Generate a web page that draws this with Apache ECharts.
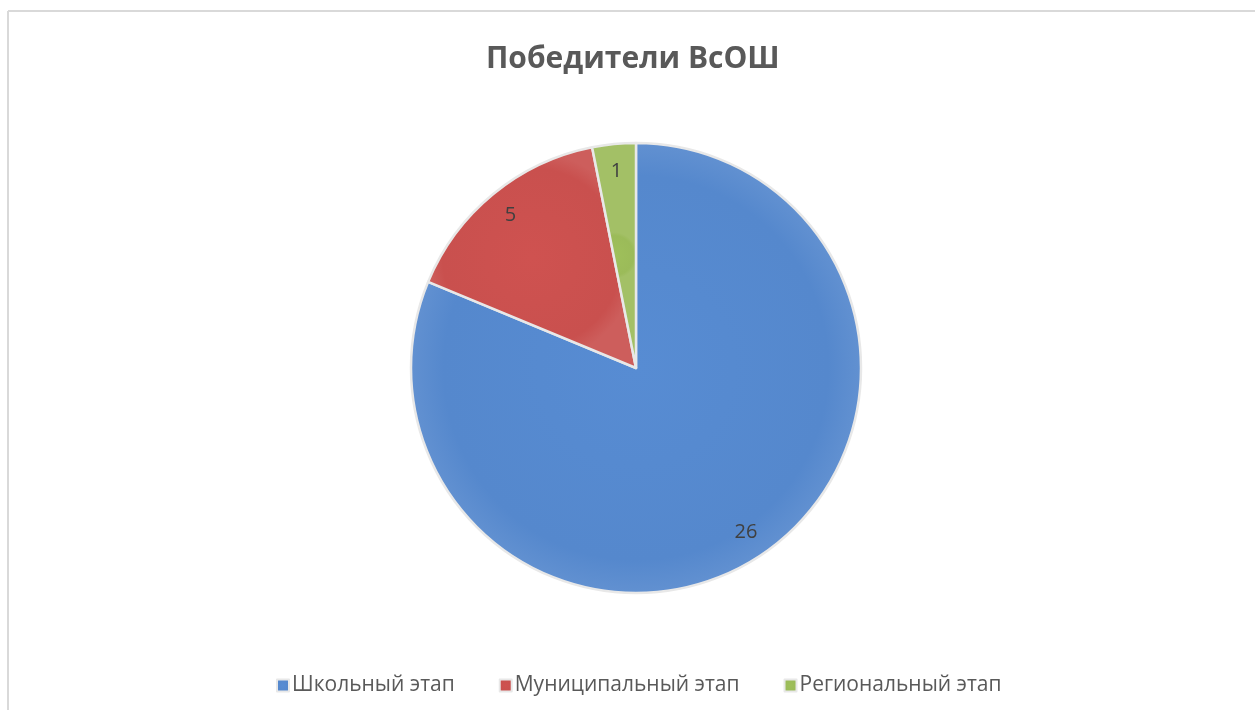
<!DOCTYPE html>
<html>
<head>
<meta charset="utf-8">
<script src="https://cdn.jsdelivr.net/npm/echarts@6/dist/echarts.min.js"></script>
<style>
  html, body { margin: 0; padding: 0; background: #ffffff; }
  #chart { width: 1255px; height: 710px; }
</style>
</head>
<body>
<div id="chart"></div>
<script>
  const title = 'Победители ВсОШ';
  const stages = ['Школьный этап', 'Муниципальный этап', 'Региональный этап'];
  const winners = [26, 5, 1];
  const sliceColors = ['#5588cd', '#c9504e', '#9bbb59'];

  const font = 'Open Sans';

  // subtle radial shading, lighter towards the rim like the office chart
  function shade(base) {
    return new echarts.graphic.RadialGradient(0.5, 0.5, 0.5, [
      { offset: 0, color: echarts.color.lift(base, -0.03) },
      { offset: 0.85, color: base },
      { offset: 1, color: echarts.color.lift(base, 0.08) },
    ]);
  }

  const pieData = stages.map((name, i) => ({
    name: name,
    value: winners[i],
    itemStyle: { color: shade(sliceColors[i]) },
  }));

  const chart = echarts.init(document.getElementById('chart'), null, { renderer: 'canvas' });

  chart.setOption({
    backgroundColor: '#ffffff',
    animation: false,
    title: {
      text: title,
      left: 481,
      top: 39,
      textStyle: { fontFamily: font, fontSize: 30, fontWeight: 'bold', color: '#595959' },
    },
    legend: {
      data: stages,
      bottom: 9,
      left: 271,
      icon: 'rect',
      itemWidth: 12,
      itemHeight: 12,
      itemGap: 44,
      textStyle: { fontFamily: font, fontSize: 21, color: '#595959', padding: [0, 0, 0, -2] },
    },
    graphic: [
      { type: 'line', shape: { x1: 8, y1: 11, x2: 1255, y2: 11 }, style: { stroke: '#d9d9d9', lineWidth: 2 } },
      { type: 'line', shape: { x1: 8, y1: 11, x2: 8, y2: 710 }, style: { stroke: '#d9d9d9', lineWidth: 2 } },
    ],
    series: [
      {
        type: 'pie',
        center: [636, 368],
        radius: [0, 225],
        startAngle: 90,
        clockwise: true,
        silent: true,
        label: { show: false },
        labelLine: { show: false },
        itemStyle: { borderColor: '#e8e8e8', borderWidth: 2.5 },
        data: pieData,
      },
      {
        // transparent ring that only carries the value labels near the rim
        type: 'pie',
        center: [636, 368],
        radius: [175, 215],
        startAngle: 90,
        clockwise: true,
        silent: true,
        itemStyle: { color: 'rgba(0,0,0,0)', borderWidth: 0 },
        label: {
          show: true,
          position: 'inside',
          formatter: '{c}',
          fontFamily: font,
          fontSize: 20,
          color: '#404040',
        },
        labelLine: { show: false },
        data: stages.map((name, i) => ({ name: name, value: winners[i] })),
      },
    ],
  });
</script>
</body>
</html>
